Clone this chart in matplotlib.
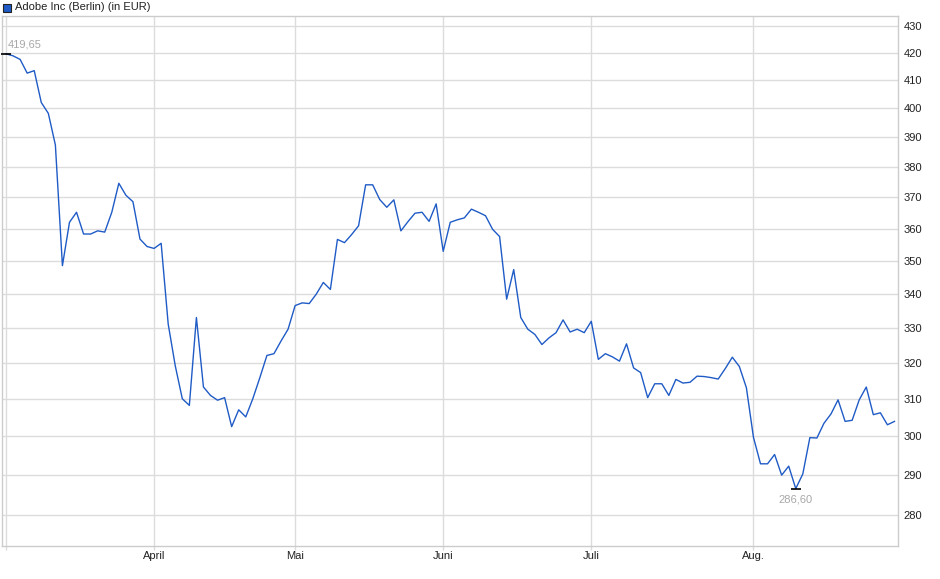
import numpy as np
import matplotlib
matplotlib.use("Agg")
import matplotlib.pyplot as plt
from matplotlib.ticker import FixedLocator, NullLocator, FixedFormatter
from matplotlib.patches import Rectangle

plt.rcParams['font.family'] = ['Liberation Sans', 'DejaVu Sans']

# Adobe Inc (Berlin), daily closes in EUR
prices = [
    419.65, 418.9, 417.6, 412.6, 413.5, 402.1, 398.3, 387.4, 348.5, 362.0,
    365.2, 358.3, 358.3, 359.3, 358.9, 365.2, 374.6, 370.7, 368.6, 356.7,
    354.4, 353.8, 355.4, 331.1, 319.2, 310.1, 308.3, 333.0, 313.3, 311.0,
    309.7, 310.4, 302.6, 307.1, 305.2, 310.1, 315.9, 322.1, 322.6, 326.2,
    329.6, 336.5, 337.3, 337.1, 339.9, 343.4, 341.3, 356.6, 355.6, 358.1,
    360.9, 374.1, 374.1, 369.3, 366.8, 369.2, 359.3, 362.2, 364.9, 365.2,
    362.3, 367.9, 352.9, 362.0, 362.8, 363.4, 366.2, 365.2, 364.1, 359.8,
    357.5, 338.4, 347.3, 333.0, 329.6, 328.1, 325.2, 327.1, 328.6, 332.3,
    328.8, 329.6, 328.6, 331.9, 321.0, 322.6, 321.7, 320.5, 325.4, 318.6,
    317.3, 310.4, 314.2, 314.2, 311.0, 315.4, 314.4, 314.6, 316.3, 316.2,
    315.9, 315.5, 318.4, 321.6, 319.0, 313.1, 299.8, 292.9, 292.9, 295.3,
    290.0, 292.3, 286.6, 290.3, 299.7, 299.6, 303.5, 306.0, 309.8, 304.0,
    304.3, 309.8, 313.3, 305.8, 306.3, 303.1, 304.0,
]

# first trading day of each month (index into prices)
month_pos = [0, 21, 41, 62, 83, 106]
month_labels = ['', 'April', 'Mai', 'Juni', 'Juli', 'Aug.']

y_ticks = [280, 290, 300, 310, 320, 330, 340, 350, 360, 370, 380, 390, 400, 410, 420, 430]

line_col = '#1f5bc6'
grid_col = '#dcdcdc'
note_col = '#a8a8a8'

fig = plt.figure(figsize=(9.4, 5.79), dpi=100)
ax = fig.add_axes([2/940, 1 - 545.7/579, 896/940, 529.7/579])

x = np.arange(len(prices))
ax.plot(x, prices, color=line_col, lw=1.0, zorder=3)

ax.set_yscale('log')
ax.set_ylim(272.6, 433.8)
ax.set_xlim(-0.57, len(prices) - 0.5)

ax.yaxis.set_major_locator(FixedLocator(y_ticks))
ax.yaxis.set_major_formatter(FixedFormatter([str(t) for t in y_ticks]))
ax.yaxis.set_minor_locator(NullLocator())
ax.yaxis.tick_right()
ax.tick_params(axis='y', length=0, pad=4, labelsize=8, labelcolor='#222222')

ax.set_xticks(month_pos)
ax.set_xticklabels(month_labels)
ax.xaxis.set_minor_locator(NullLocator())
ax.tick_params(axis='x', length=3, width=1, color=grid_col, pad=1, labelsize=8,
               labelcolor='#222222')

ax.grid(True, color=grid_col, lw=1.0, zorder=0)
for s in ax.spines.values():
    s.set_color('#cccccc')
    s.set_linewidth(1.0)

# start / low markers with labels
i_low = int(np.argmin(prices))
ax.plot([0, i_low], [prices[0], prices[i_low]], ls='none', marker='_',
        ms=7, mew=1.2, color='black', zorder=4, clip_on=False)
ax.annotate(f"{prices[0]:.2f}".replace('.', ','), (0, prices[0]),
            xytext=(1.5, 7), textcoords='offset points', ha='left', va='center',
            fontsize=8, color=note_col)
ax.annotate(f"{prices[i_low]:.2f}".replace('.', ','), (i_low, prices[i_low]),
            xytext=(0, -7.5), textcoords='offset points', ha='center', va='center',
            fontsize=8, color=note_col)

# legend box at top-left
fig.add_artist(Rectangle((3/940, 1 - 11.5/579), 8/940, 8/579,
                         transform=fig.transFigure, fc=line_col, ec='#222222', lw=0.8))
fig.text(15/940, 1 - 7.5/579, 'Adobe Inc (Berlin) (in EUR)', fontsize=8,
         color='#222222', ha='left', va='center')

fig.savefig('out.png', dpi=100)
